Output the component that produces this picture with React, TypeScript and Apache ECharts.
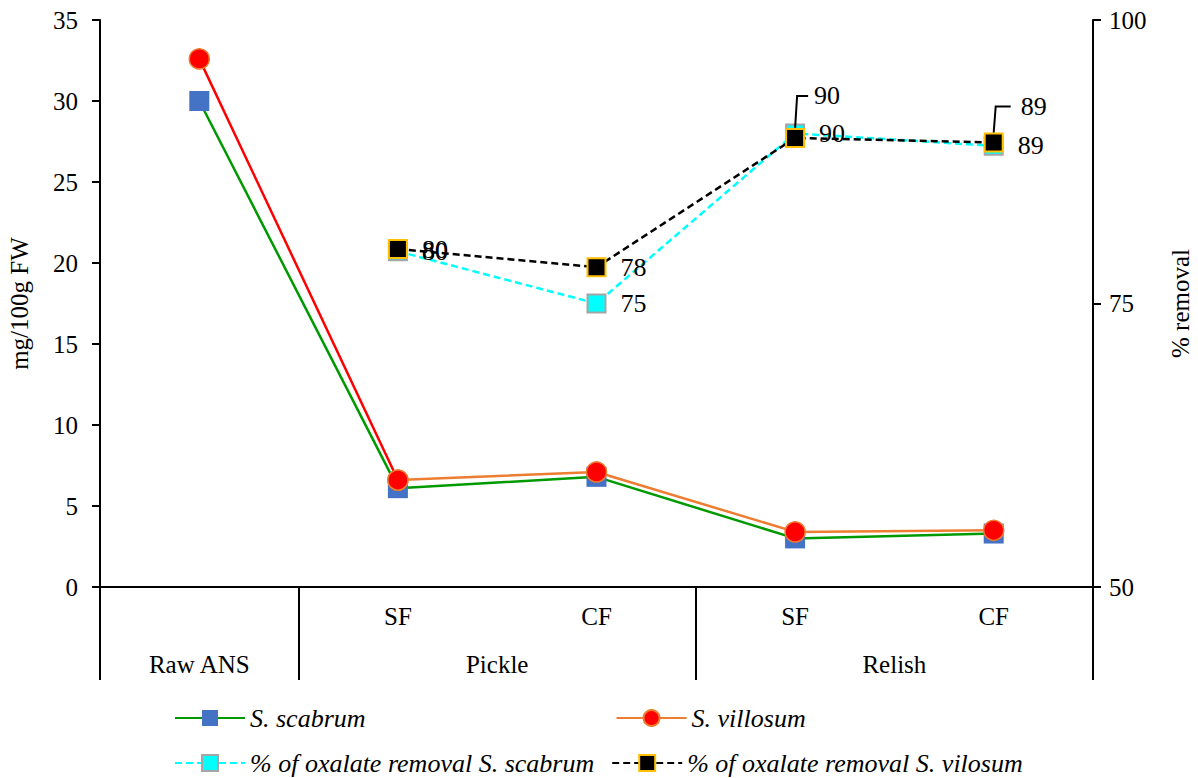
import React, { useEffect, useRef } from "react";
import * as echarts from "echarts";

const categories = ["Raw ANS", "SF", "CF", "SF", "CF"];
const groupLabels = ["", "Raw ANS", "", "", "Pickle", "", "", "", "Relish", "", ""];
const groupSeparators = [0, 2, 6, 10];
const scabrum = [30.0, 6.1, 6.8, 3.0, 3.3];
const villosum = [32.6, 6.6, 7.1, 3.4, 3.5];
const removalScabrum: (number | string)[] = ["-", 79.6, 75.0, 90.0, 88.9];
const removalVilosum: (number | string)[] = ["-", 79.8, 78.2, 89.6, 89.2];
const leftTicks = { min: 0, max: 35, interval: 5 };
const rightTicks = { min: 50, max: 100, interval: 25 };
const leaderIndices = [3, 4];

const FONT = "Liberation Serif";

export default function App() {
  const ref = useRef<HTMLDivElement>(null);
  useEffect(() => {
    if (!ref.current) return;
    const chart = echarts.init(ref.current, null, { renderer: "svg" });
    const axisText = { color: "#000", fontFamily: FONT, fontSize: 25 };
    const leaderOffsets: Record<number, { up: number; dx: number; lx: number }> = {
      3: { up: 42, dx: 19, lx: 13 },
      4: { up: 36, dx: 27, lx: 17 },
    };
    const legendText = { color: "#000", fontFamily: FONT, fontSize: 26, fontStyle: "italic" };
    chart.setOption({
      animation: false,
      backgroundColor: "#fff",
      grid: {
        left: 100,
        right: 105,
        top: 20,
        bottom: 191,
        containLabel: false,
        outerBoundsMode: "none",
      },
      xAxis: [
        {
          type: "category",
          data: categories,
          position: "bottom",
          axisLine: { lineStyle: { color: "#000", width: 2 } },
          axisTick: { show: false },
          axisLabel: {
            ...axisText,
            interval: 0,
            margin: 17,
            formatter: (v: string, i: number) => (i === 0 ? "" : v),
          },
          splitLine: { show: false },
        },
        {
          type: "category",
          data: groupLabels,
          boundaryGap: false,
          position: "bottom",
          axisLine: { show: false },
          axisTick: {
            show: true,
            interval: (i: number) => groupSeparators.includes(i),
            length: 93,
            lineStyle: { color: "#000", width: 2 },
          },
          axisLabel: { ...axisText, interval: 0, margin: 65 },
          splitLine: { show: false },
        },
      ],
      yAxis: [
        {
          type: "value",
          ...leftTicks,
          name: "mg/100g FW",
          nameLocation: "middle",
          nameRotate: 90,
          nameGap: 68,
          nameTextStyle: { color: "#000", fontFamily: FONT, fontSize: 25 },
          axisLine: { show: true, lineStyle: { color: "#000", width: 2 } },
          axisTick: { show: true, length: 8, lineStyle: { color: "#000", width: 2 } },
          axisLabel: { ...axisText, margin: 22 },
          splitLine: { show: false },
        },
        {
          type: "value",
          ...rightTicks,
          position: "right",
          name: "% removal",
          nameLocation: "middle",
          nameRotate: 90,
          nameGap: 75,
          nameTextStyle: { color: "#000", fontFamily: FONT, fontSize: 25 },
          axisLine: { show: true, lineStyle: { color: "#000", width: 2 } },
          axisTick: { show: true, length: 8, lineStyle: { color: "#000", width: 2 } },
          axisLabel: { ...axisText, margin: 16 },
          splitLine: { show: false },
        },
      ],
      legend: [
        {
          data: ["S. scabrum", "S. villosum"],
          left: 169,
          top: 700,
          itemWidth: 70,
          itemHeight: 20,
          itemGap: 250,
          textStyle: legendText,
        },
        {
          data: ["% of oxalate removal S. scabrum", "% of oxalate removal S. vilosum"],
          left: 169,
          top: 745,
          itemWidth: 70,
          itemHeight: 20,
          itemGap: 17,
          textStyle: legendText,
        },
      ],
      series: [
        {
          name: "S. scabrum",
          type: "line",
          data: scabrum,
          symbol: "rect",
          symbolSize: 20,
          itemStyle: { color: "#4472C4" },
          lineStyle: { color: "#009A00", width: 2.5 },
          z: 2,
        },
        {
          name: "villosum-raw",
          type: "line",
          data: villosum.map((v, i) => (i <= 1 ? v : "-")),
          symbol: "circle",
          symbolSize: 20,
          itemStyle: { color: "#FF0000", borderColor: "#ED7D31", borderWidth: 1.5 },
          lineStyle: { color: "#FF0000", width: 2.5 },
          z: 3,
        },
        {
          name: "S. villosum",
          type: "line",
          data: villosum.map((v, i) => (i >= 1 ? v : "-")),
          symbol: "circle",
          symbolSize: 20,
          itemStyle: { color: "#FF0000", borderColor: "#ED7D31", borderWidth: 1.5 },
          lineStyle: { color: "#ED7D31", width: 2.5 },
          z: 3,
        },
        {
          name: "% of oxalate removal S. scabrum",
          type: "line",
          yAxisIndex: 1,
          data: removalScabrum,
          symbol: "rect",
          symbolSize: 18,
          itemStyle: { color: "#00FFFF", borderColor: "#A5A5A5", borderWidth: 2 },
          lineStyle: { color: "#00FFFF", width: 2.5, type: [7, 4] },
          label: {
            show: true,
            position: "right",
            distance: 14,
            color: "#000",
            fontFamily: FONT,
            fontSize: 26,
            formatter: (p: any) => String(Math.round(p.value)),
          },
          z: 4,
        },
        {
          name: "% of oxalate removal S. vilosum",
          type: "line",
          yAxisIndex: 1,
          data: removalVilosum,
          symbol: "rect",
          symbolSize: 18,
          itemStyle: { color: "#000000", borderColor: "#FFC000", borderWidth: 2 },
          lineStyle: { color: "#000000", width: 2.5, type: [7, 4] },
          label: {
            show: true,
            position: "right",
            distance: 14,
            color: "#000",
            fontFamily: FONT,
            fontSize: 26,
            formatter: (p: any) => String(Math.round(p.value)),
          },
          labelLayout: (p: any) => {
            const o = leaderOffsets[p.dataIndex];
            if (!o) return {};
            const r = p.rect;
            const cx = r.x + r.width / 2;
            const cy = r.y + r.height / 2;
            return { x: cx + o.dx, y: cy - o.up, align: "left", verticalAlign: "middle" };
          },
          z: 5,
        },
      ],
    });

    const graphics: any[] = leaderIndices.map((idx) => {
      const o = leaderOffsets[idx];
      const [cx, cy] = chart.convertToPixel({ seriesIndex: 4 }, [idx, removalVilosum[idx] as number]);
      const ly = cy - o.up;
      return {
        type: "polyline",
        shape: { points: [[cx, cy - 10], [cx + 2, ly], [cx + o.lx, ly]] },
        style: { stroke: "#000", lineWidth: 2, fill: null },
        z: 10,
      };
    });
    chart.setOption({ graphic: graphics });
    return () => chart.dispose();
  }, []);
  return (
    <div
      ref={ref}
      style={{ position: "fixed", left: 0, top: 0, width: 1198, height: 778, background: "#fff" }}
    />
  );
}
